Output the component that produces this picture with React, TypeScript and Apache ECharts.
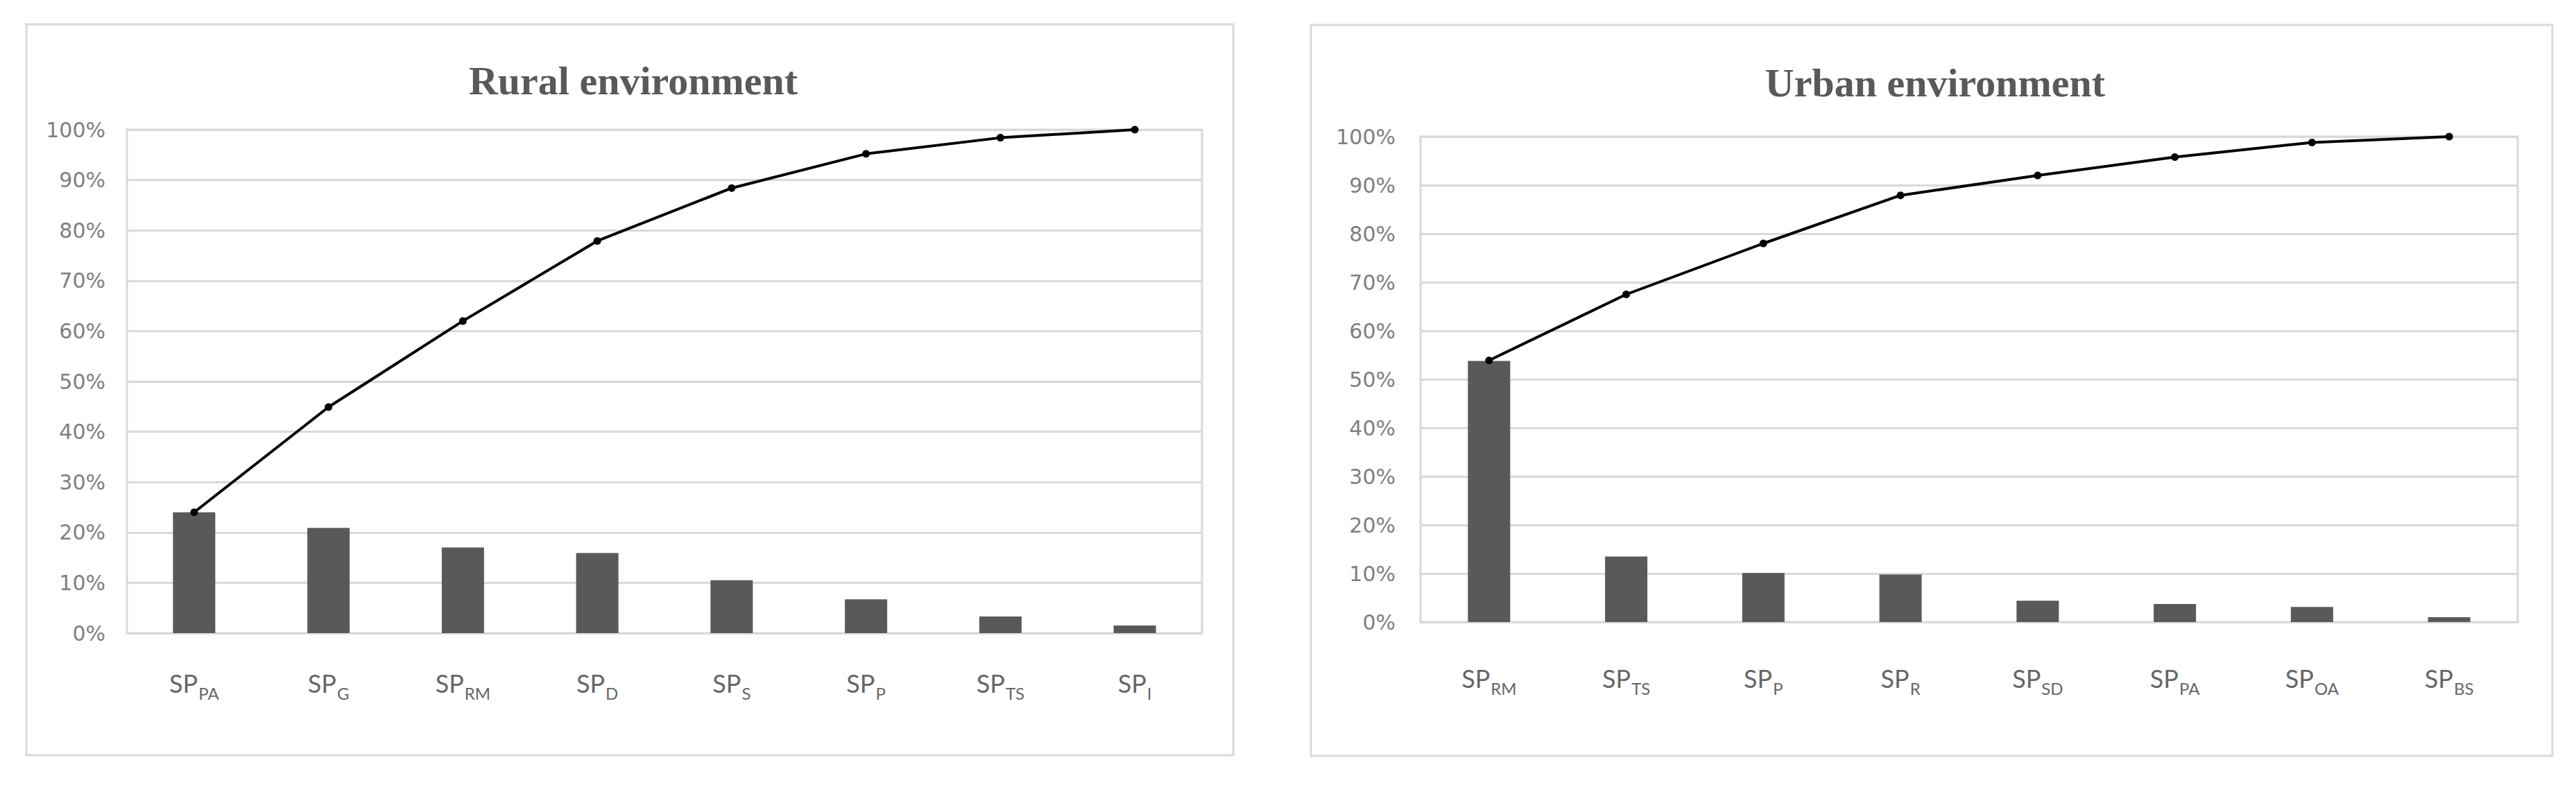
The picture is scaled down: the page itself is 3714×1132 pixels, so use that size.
import React, { useEffect, useRef } from "react";
import * as echarts from "echarts";

// ---- Data ----
const ruralSubscripts = ["PA", "G", "RM", "D", "S", "P", "TS", "I"];
const ruralShare = [24, 20.9, 17, 15.9, 10.5, 6.7, 3.3, 1.5];
const ruralCumulative = [24, 44.9, 62, 77.9, 88.4, 95.2, 98.4, 100];

const urbanSubscripts = ["RM", "TS", "P", "R", "SD", "PA", "OA", "BS"];
const urbanShare = [53.8, 13.5, 10.1, 9.8, 4.4, 3.7, 3.1, 1.0];
const urbanCumulative = [53.9, 67.5, 78, 87.9, 92, 95.8, 98.8, 100];

const titles = ["Rural environment", "Urban environment"];
const yMin = 0;
const yMax = 100;
const yInterval = 10;

const BORDER = "#d9d9d9";
const BAR = "#595959";

export default function App() {
  const ref = useRef<HTMLDivElement>(null);

  useEffect(() => {
    if (!ref.current) return;
    const chart = echarts.init(ref.current, undefined, { renderer: "svg" });

    const xLabel = (margin: number) => ({
      interval: 0,
      margin,
      formatter: (v: string) => `{m|SP}{s|${v}}`,
      rich: {
        m: {
          fontFamily: "Lato",
          fontSize: 36,
          color: "#666666",
          lineHeight: 42,
          verticalAlign: "top",
        },
        s: {
          fontFamily: "Lato",
          fontSize: 24,
          color: "#666666",
          lineHeight: 24,
          padding: [20, 0, 0, 1],
          verticalAlign: "top",
        },
      },
    });

    const yLabel = (margin: number) => ({
      formatter: "{value}%",
      fontFamily: "DejaVu Sans",
      fontSize: 30,
      color: "#7f7f7f",
      margin,
    });

    const grids = [
      { left: 183, top: 187, width: 1550, height: 726 },
      { left: 2048, top: 197, width: 1582, height: 700 },
    ];

    const titleStyle = {
      fontFamily: "Liberation Serif",
      fontWeight: "bold",
      fontSize: 58,
      lineHeight: 58,
      color: "#595959",
    };

    const option: any = {
      animation: false,
      backgroundColor: "#ffffff",
      title: [
        { text: titles[0], left: 908, textAlign: "center", top: 82, textStyle: titleStyle },
        { text: titles[1], left: 2785, textAlign: "center", top: 85, textStyle: titleStyle },
      ],
      graphic: [
        {
          type: "rect",
          shape: { x: 38, y: 35, width: 1740, height: 1054 },
          style: { fill: "none", stroke: BORDER, lineWidth: 3 },
          silent: true,
        },
        {
          type: "rect",
          shape: { x: 1890, y: 36, width: 1790, height: 1054 },
          style: { fill: "none", stroke: BORDER, lineWidth: 3 },
          silent: true,
        },
      ],
      grid: grids.map((g) => ({
        ...g,
        show: true,
        borderColor: BORDER,
        borderWidth: 3,
        backgroundColor: "transparent",
      })),
      xAxis: [
        {
          type: "category",
          gridIndex: 0,
          data: ruralSubscripts,
          axisLine: { show: true, lineStyle: { color: BORDER, width: 3 } },
          axisTick: { show: false },
          axisLabel: xLabel(54),
        },
        {
          type: "category",
          gridIndex: 1,
          data: urbanSubscripts,
          axisLine: { show: true, lineStyle: { color: BORDER, width: 3 } },
          axisTick: { show: false },
          axisLabel: xLabel(63),
        },
      ],
      yAxis: [0, 1].map((i) => ({
        type: "value",
        gridIndex: i,
        min: yMin,
        max: yMax,
        interval: yInterval,
        axisLine: { show: false },
        axisTick: { show: false },
        splitLine: { show: true, lineStyle: { color: BORDER, width: 3 } },
        axisLabel: yLabel(i === 0 ? 31 : 36),
      })),
      series: [
        {
          type: "bar",
          xAxisIndex: 0,
          yAxisIndex: 0,
          data: ruralShare,
          barWidth: 61,
          itemStyle: { color: BAR },
        },
        {
          type: "line",
          xAxisIndex: 0,
          yAxisIndex: 0,
          data: ruralCumulative,
          symbol: "circle",
          symbolSize: 11,
          lineStyle: { color: "#000000", width: 4 },
          itemStyle: { color: "#000000" },
        },
        {
          type: "bar",
          xAxisIndex: 1,
          yAxisIndex: 1,
          data: urbanShare,
          barWidth: 61,
          itemStyle: { color: BAR },
        },
        {
          type: "line",
          xAxisIndex: 1,
          yAxisIndex: 1,
          data: urbanCumulative,
          symbol: "circle",
          symbolSize: 11,
          lineStyle: { color: "#000000", width: 4 },
          itemStyle: { color: "#000000" },
        },
      ],
    };

    chart.setOption(option);
    return () => chart.dispose();
  }, []);

  return (
    <div
      ref={ref}
      style={{ position: "fixed", left: 0, top: 0, width: 3714, height: 1132, background: "#fff" }}
    />
  );
}
